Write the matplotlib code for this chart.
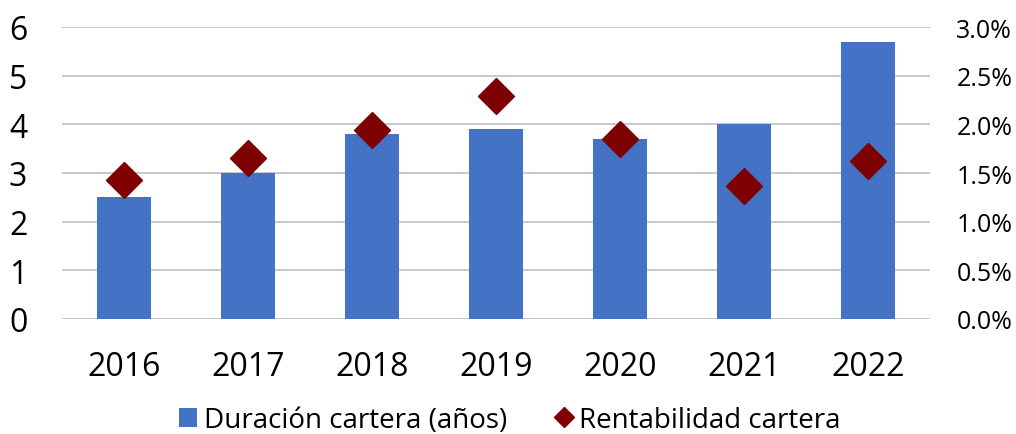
import matplotlib
matplotlib.use("Agg")
import matplotlib.pyplot as plt
from matplotlib.ticker import FuncFormatter, MultipleLocator

plt.rcParams['font.family'] = ['Open Sans', 'DejaVu Sans']

years = ['2016', '2017', '2018', '2019', '2020', '2021', '2022']
duracion = [2.5, 3.0, 3.8, 3.9, 3.7, 4.0, 5.7]
rentabilidad = [1.43, 1.65, 1.94, 2.29, 1.85, 1.37, 1.62]  # percent

bar_color = '#4472C4'
dia_color = '#7F0000'

fig = plt.figure(figsize=(10.16, 4.35), dpi=100)
ax = fig.add_axes([62/1016, 1 - 320/435, (930-62)/1016, (320-28)/435])
x = list(range(len(years)))
ax.bar(x, duracion, width=0.435, color=bar_color, zorder=2, label='Duración cartera (años)')
ax.set_xlim(-0.5, len(years) - 0.5)
ax.set_ylim(0, 6)
ax.yaxis.set_major_locator(MultipleLocator(1))
ax.grid(axis='y', color='#BFBFBF', linewidth=1.2, zorder=0)
for s in ax.spines.values():
    s.set_visible(False)
ax.tick_params(axis='both', length=0, labelsize=23, colors='#000000')
ax.tick_params(axis='y', pad=25)
ax.tick_params(axis='x', pad=22)
ax.set_xticks(x)
ax.set_xticklabels(years)

ax2 = ax.twinx()
ax2.plot(x, rentabilidad, linestyle='none', marker='D', markersize=18,
         color=dia_color, zorder=3, label='Rentabilidad cartera')
ax2.set_ylim(0, 3.0)
ax2.yaxis.set_major_locator(MultipleLocator(0.5))
ax2.yaxis.set_major_formatter(FuncFormatter(lambda v, p: f'{v:.1f}%'))
ax2.tick_params(axis='y', length=0, labelsize=18, pad=19)
for s in ax2.spines.values():
    s.set_visible(False)

h1, l1 = ax.get_legend_handles_labels()
h2, l2 = ax2.get_legend_handles_labels()
leg = fig.legend(h1 + h2, l1 + l2, loc='center', bbox_to_anchor=(510/1016, 1 - 421/435),
                 ncol=2, frameon=False, fontsize=20, handlelength=0.65, handletextpad=0.25,
                 columnspacing=1.7, markerscale=0.55)

fig.savefig('out.png', dpi=100)
